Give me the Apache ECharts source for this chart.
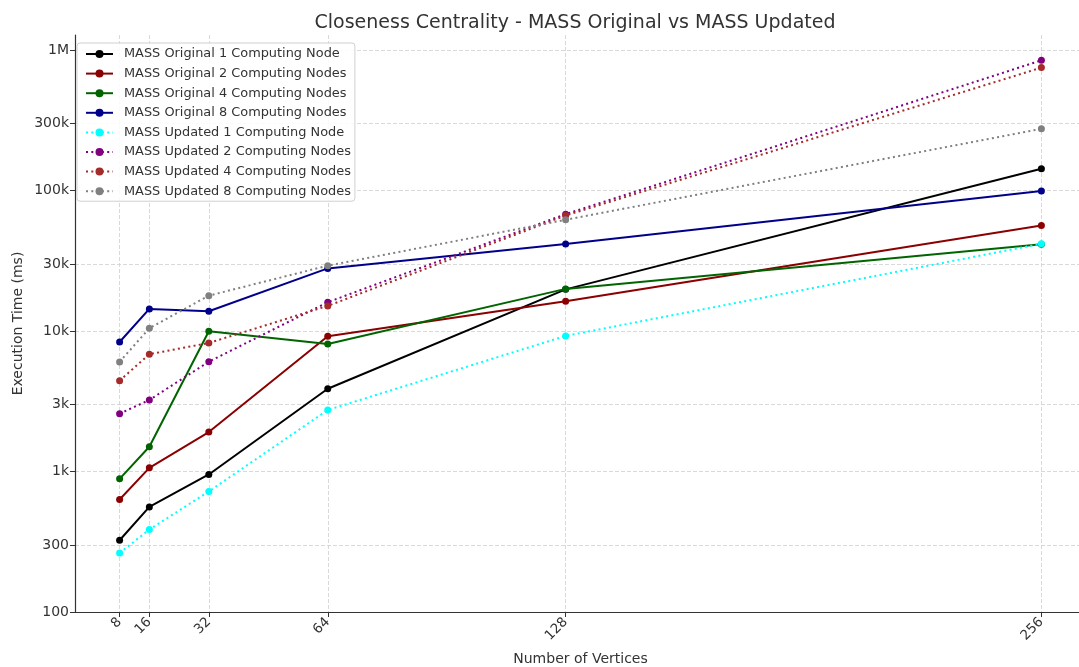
<!DOCTYPE html>
<html>
<head>
<meta charset="utf-8">
<script src="https://cdn.jsdelivr.net/npm/echarts@6/dist/echarts.min.js"></script>
<style>
  html, body { margin: 0; padding: 0; background: #fff; }
  #chart { width: 1079px; height: 667px; }
</style>
</head>
<body>
<div id="chart"></div>
<script>
  // x values (number of vertices)
  var vertices = [8, 16, 32, 64, 128, 256];
  // execution time in ms
  var orig1 = [324, 560, 953, 3880, 19800, 143000];
  var orig2 = [632, 1062, 1910, 9180, 16300, 56400];
  var orig4 = [887, 1500, 9970, 8090, 19950, 41500];
  var orig8 = [8360, 14360, 13830, 27900, 41600, 99100];
  var upd1 = [263, 386, 721, 2740, 9230, 41800];
  var upd2 = [2580, 3230, 6050, 16030, 67900, 845000];
  var upd4 = [4430, 6840, 8220, 15100, 66400, 750000];
  var upd8 = [6030, 10470, 17860, 29200, 61900, 275000];
  var yTicks = [100, 300, 1000, 3000, 10000, 30000, 100000, 300000, 1000000];
  var yTickLabels = ['100', '300', '1k', '3k', '10k', '30k', '100k', '300k', '1M'];

  var names = [
    'MASS Original 1 Computing Node',
    'MASS Original 2 Computing Nodes',
    'MASS Original 4 Computing Nodes',
    'MASS Original 8 Computing Nodes',
    'MASS Updated 1 Computing Node',
    'MASS Updated 2 Computing Nodes',
    'MASS Updated 4 Computing Nodes',
    'MASS Updated 8 Computing Nodes'
  ];
  var values = [orig1, orig2, orig4, orig8, upd1, upd2, upd4, upd8];
  var colors = ['#000000', '#8b0000', '#006400', '#00008b', '#00ffff', '#800080', '#a52a2a', '#808080'];
  var font = 'DejaVu Sans';

  function pairs(arr) {
    return vertices.map(function (v, i) { return [v, arr[i]]; });
  }

  var series = names.map(function (n, i) {
    var dotted = i >= 4;
    return {
      name: n,
      type: 'line',
      data: pairs(values[i]),
      symbol: 'circle',
      symbolSize: 7,
      color: colors[i],
      itemStyle: { color: colors[i] },
      lineStyle: {
        color: colors[i],
        width: 2,
        type: dotted ? [2, 3.3] : 'solid'
      },
      emphasis: { disabled: true },
      animation: false,
      z: 2 + i
    };
  });

  var chart = echarts.init(document.getElementById('chart'));
  chart.setOption({
    backgroundColor: '#ffffff',
    title: {
      text: 'Closeness Centrality - MASS Original vs MASS Updated',
      left: 570,
      textAlign: 'center',
      top: 9,
      textStyle: { fontFamily: font, fontSize: 19, fontWeight: 'normal', color: '#333' }
    },
    legend: {
      orient: 'vertical',
      left: 77,
      top: 43,
      padding: [4, 4, 3, 8],
      itemWidth: 27,
      itemHeight: 10,
      itemGap: 5.6,
      backgroundColor: 'rgba(255,255,255,0.85)',
      borderColor: '#d0d0d0',
      borderWidth: 1,
      borderRadius: 3,
      textStyle: { fontFamily: font, fontSize: 12.9, color: '#333', lineHeight: 14, padding: [0, 0, 0, 6] },
      data: names
    },
    grid: { left: 75, top: 35, width: 1011, height: 577, outerBoundsMode: 'none', containLabel: false },
    xAxis: {
      type: 'value',
      min: -4,
      max: 268,
      name: 'Number of Vertices',
      nameLocation: 'middle',
      nameGap: 40,
      nameMoveOverlap: false,
      nameTextStyle: { fontFamily: font, fontSize: 14, color: '#333' },
      axisLine: { show: true, onZero: false, lineStyle: { color: '#333', width: 1.2 } },
      axisTick: { show: true, length: 5, lineStyle: { color: '#333' }, customValues: vertices },
      axisLabel: {
        rotate: 45,
        margin: 8,
        fontFamily: font,
        fontSize: 13.5,
        color: '#333',
        customValues: vertices
      },
      splitLine: { show: true, lineStyle: { color: '#cfcfcf', width: 0.8, type: [4, 2] } }
    },
    yAxis: {
      type: 'log',
      logBase: 10,
      min: 100,
      max: 1280000,
      name: 'Execution Time (ms)',
      nameLocation: 'middle',
      nameGap: 50,
      nameMoveOverlap: false,
      nameTextStyle: { fontFamily: font, fontSize: 14, color: '#333' },
      axisLine: { show: true, onZero: false, lineStyle: { color: '#333', width: 1.2 } },
      axisTick: { show: true, length: 5, lineStyle: { color: '#333' }, customValues: yTicks },
      axisLabel: {
        fontFamily: font,
        fontSize: 14,
        color: '#333',
        margin: 6,
        customValues: yTicks,
        formatter: function (v) {
          var k = yTicks.indexOf(Math.round(v));
          return k >= 0 ? yTickLabels[k] : '';
        }
      },
      splitLine: { show: true, lineStyle: { color: '#cfcfcf', width: 0.8, type: [4, 2] } }
    },
    series: series
  });
</script>
</body>
</html>
